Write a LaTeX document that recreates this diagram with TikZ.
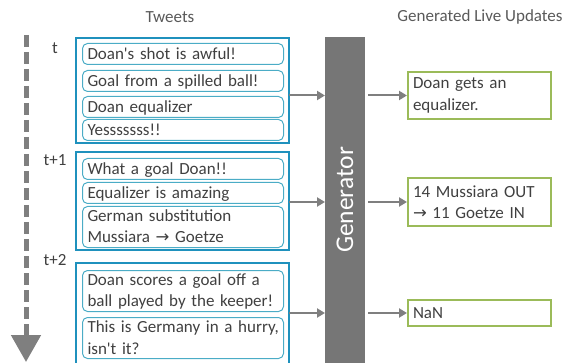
\documentclass[tikz,border=0pt]{standalone}
\usepackage{fontspec}
\setmainfont{Carlito}
\newfontfamily\arrowfont{DejaVu Sans}
\usetikzlibrary{arrows.meta}
\usetikzlibrary{positioning}

\definecolor{txtgray}{HTML}{404040}
\definecolor{headgray}{HTML}{595959}
\definecolor{arrowgray}{HTML}{7F7F7F}
\definecolor{bargray}{HTML}{767676}
\definecolor{groupblue}{HTML}{1F91BD}
\definecolor{tweetblue}{HTML}{4BACC6}
\definecolor{updgreen}{HTML}{9BBB59}

\begin{document}
\begin{tikzpicture}[x=1pt,y=1pt,
font=\fontsize{17}{21.5}\selectfont,text=txtgray,
group/.style={draw=groupblue,line width=2pt,outer sep=0pt,anchor=south west},
tweet/.style={draw=tweetblue,line width=1pt,rounded corners=5pt,anchor=north west,
text width=195pt,inner xsep=3pt,inner ysep=1pt,minimum height=21pt,align=left,
execute at begin node={\rule{0pt}{14pt}\hspace*{2pt}},execute at end node={\rule[-3.5pt]{0pt}{3.5pt}}},
update/.style={draw=updgreen,line width=2pt,anchor=west,text width=133pt,inner xsep=5pt,align=left},
feed/.style={draw=arrowgray,line width=2pt,-{Triangle[length=8pt,width=9pt]}},
timeline/.style={draw=arrowgray,line width=5pt,dash pattern=on 12pt off 5pt,
-{Triangle[length=27pt,width=29pt]}}]
\useasboundingbox (0,0) rectangle (568,362);

\node[text=headgray] (tweets) at (170,345) {Tweets};
\node[text=headgray] (updates) at (480,345) {Generated Live Updates};

% time axis
\coordinate (ttop) at (26,327);
\coordinate (tend) at (26,0);
\draw[timeline] (ttop) -- (tend);
\node (s0) at (55,314) {t};
\node (s1) at (55,202) {t+1};
\node (s2) at (55,102) {t+2};

% tweets at t
\node[group,minimum width=213pt,minimum height=105pt] (g1) at (76,219) {};
\node[tweet] (a1) at (82,319) {Doan\textquotesingle s shot is awful!};
\node[tweet] (a2) at (82,292) {Goal from a spilled ball!};
\node[tweet] (a3) at (82,266) {Doan equalizer};
\node[tweet] (a4) at (82,243) {Yesssssss!!};

% tweets at t+1
\node[group,minimum width=213pt,minimum height=98pt] (g2) at (76,112) {};
\node[tweet] (b1) at (82,204) {What a goal Doan!!};
\node[tweet] (b2) at (82,180) {Equalizer is amazing};
\node[tweet] (b3) at (82,156) {German substitution\\\hspace*{2pt}Mussiara {\arrowfont\fontsize{16.5}{21.5}\selectfont →} Goetze};

% tweets at t+2
\node[group,minimum width=213pt,minimum height=104pt] (g3) at (76,-5) {};
\node[tweet] (c1) at (82,92) {Doan scores a goal off a\\\hspace*{2pt}ball played by the keeper!};
\node[tweet] (c2) at (82,45) {This is Germany in a hurry,\\\hspace*{2pt}isn\textquotesingle t it?};

% generator
\node[fill=bargray,minimum width=40pt,minimum height=330pt,anchor=south west,outer sep=0pt] (gen) at (325,-5) {};
\node[rotate=90,text=white,font=\fontsize{25.5}{30}\selectfont] (genlabel) at ([yshift=2pt]gen.center) {Generator};

% live updates
\node[update,minimum height=47pt] (u1) at (407,266.5) {Doan gets an\\equalizer.};
\node[update,minimum height=48pt] (u2) at (407,160) {14 Mussiara OUT\\{\arrowfont\fontsize{16.5}{21.5}\selectfont →} 11 Goetze IN};
\node[update,minimum height=26pt] (u3) at (407,49) {NaN};

\foreach \g/\u in {g1/u1,g2/u2,g3/u3}{
\draw[feed] (\g.east |- \u.west) -- (gen.west |- \u.west);
\draw[feed,shorten <=3pt] (gen.east |- \u.west) -- (\u.west);
}
\end{tikzpicture}
\end{document}
